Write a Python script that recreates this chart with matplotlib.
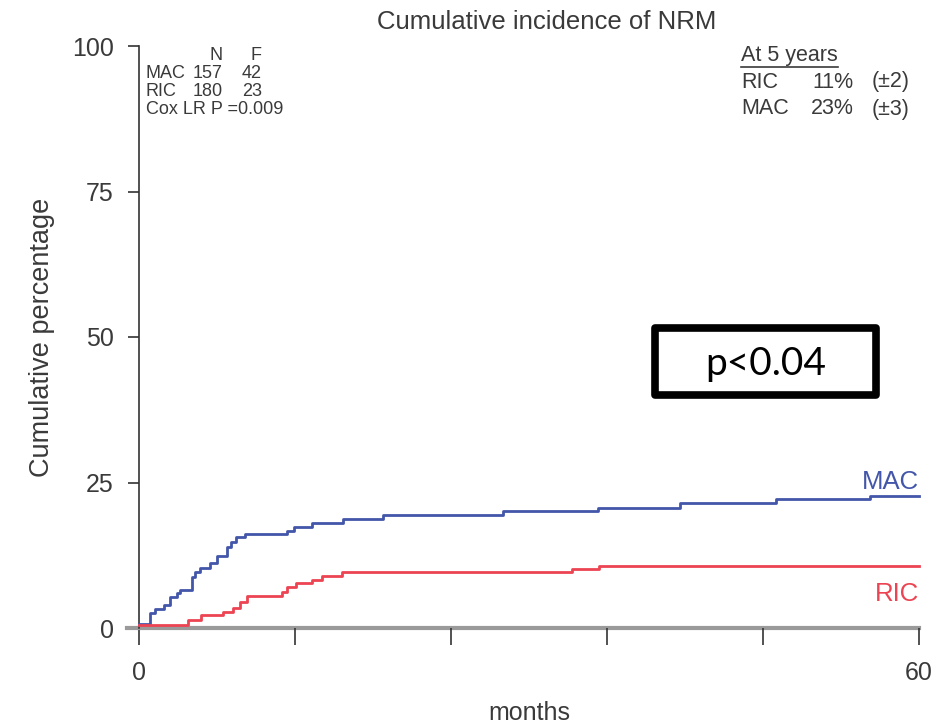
import matplotlib
matplotlib.use("Agg")
import matplotlib.pyplot as plt
from matplotlib.lines import Line2D
from matplotlib.patches import Rectangle

plt.rcParams['font.family'] = ['Liberation Sans', 'DejaVu Sans']

# ---- data ----
mac_t = [0, 0.85, 1.2, 1.9, 2.4, 2.9, 3.15, 4.05, 4.3, 4.7, 5.45, 6.0, 6.75, 7.1, 7.5,
         8.15, 11.4, 11.9, 13.3, 15.7, 18.8, 28.0, 35.3, 41.6, 49.0, 56.2, 60]
mac_v = [0.7, 2.5, 3.2, 4.0, 5.4, 6.0, 6.5, 8.8, 9.7, 10.3, 11.2, 12.3, 14.0, 14.8, 15.6,
         16.2, 16.7, 17.3, 18.1, 18.7, 19.4, 20.1, 20.7, 21.4, 22.2, 22.7, 22.7]
ric_t = [0, 3.8, 4.8, 6.5, 7.25, 7.75, 8.3, 11.0, 11.4, 12.1, 13.3, 14.05, 15.6, 33.3, 35.4, 60]
ric_v = [0.5, 1.3, 2.3, 2.8, 3.4, 4.5, 5.5, 6.2, 7.1, 7.8, 8.2, 8.9, 9.7, 10.1, 10.7, 10.7]

x_ticks = [0, 12, 24, 36, 48, 60]
x_ticklabels = ['0', '', '', '', '', '60']
y_ticks = [0, 25, 50, 75, 100]

title = "Cumulative incidence of NRM"
stats_header = ["", "N", "F"]
stats_rows = [["MAC", "157", "42"], ["RIC", "180", "23"]]
cox_text = "Cox LR P =0.009"
at5_header = "At 5 years"
at5_rows = [["RIC", "11%", "(\u00b12)"], ["MAC", "23%", "(\u00b13)"]]
pval_text = "p<0.04"

BLUE = '#4356aa'
RED = '#ec4452'
TXT = '#3a3a3a'

W, H = 945, 725
fig = plt.figure(figsize=(W / 100, H / 100), dpi=100)
ax = fig.add_axes([139 / W, (H - 628) / H, 780 / W, 582 / H])
ax.set_xlim(0, 60)
ax.set_ylim(0, 100)

ax.step(mac_t, mac_v, where='post', color=BLUE, lw=2.0, zorder=3, clip_on=False)
ax.step(ric_t, ric_v, where='post', color=RED, lw=2.0, zorder=3, clip_on=False)

for s in ['top', 'right']:
    ax.spines[s].set_visible(False)
ax.spines['left'].set_color('#333333')
ax.spines['left'].set_linewidth(1.2)
ax.spines['bottom'].set_color('#9a9a9a')
ax.spines['bottom'].set_linewidth(3.0)
ax.spines['bottom'].set_zorder(1)
ax.axhline(0, xmin=-0.016, xmax=0, color='#9a9a9a', lw=3.0, clip_on=False)

ax.set_xticks(x_ticks)
ax.set_xticklabels(x_ticklabels)
ax.set_yticks(y_ticks)
ax.tick_params(axis='x', direction='out', length=12, width=1.2, color='#333333',
               pad=12, labelsize=18, labelcolor=TXT)
ax.tick_params(axis='y', direction='out', length=8, width=1.2, color='#333333',
               pad=10, labelsize=18, labelcolor=TXT)

ax.set_xlabel("months", fontsize=18, color=TXT, labelpad=11)
ax.set_ylabel("Cumulative percentage", fontsize=19.5, color=TXT, labelpad=12)
fig.text(547 / W, 1 - 22 / H, title, ha='center', va='center', fontsize=18.5, color=TXT)

def fx(px):
    return px / W

def fy(py):
    return 1 - py / H

# top-left stats
small = 13
fig.text(fx(216), fy(55), stats_header[1], ha='center', va='center', fontsize=small, color=TXT)
fig.text(fx(256), fy(55), stats_header[2], ha='center', va='center', fontsize=small, color=TXT)
for i, row in enumerate(stats_rows):
    yy = fy(73 + i * 18.5)
    fig.text(fx(146), yy, row[0], ha='left', va='center', fontsize=small, color=TXT)
    fig.text(fx(193), yy, row[1], ha='left', va='center', fontsize=small, color=TXT)
    fig.text(fx(262), yy, row[2], ha='right', va='center', fontsize=small, color=TXT)
fig.text(fx(146), fy(110), cox_text, ha='left', va='center', fontsize=small, color=TXT)

# top-right at 5 years
mid = 15.5
fig.text(fx(741), fy(56), at5_header, ha='left', va='center', fontsize=mid, color=TXT)
fig.add_artist(Line2D([fx(741), fx(838)], [fy(67), fy(67)], color=TXT, lw=1.2))
for i, row in enumerate(at5_rows):
    yy = fy(82 + i * 27)
    fig.text(fx(741), yy, row[0], ha='left', va='center', fontsize=mid, color=TXT)
    fig.text(fx(854), yy, row[1], ha='right', va='center', fontsize=mid, color=TXT)
    fig.text(fx(872), yy, row[2], ha='left', va='center', fontsize=mid, color=TXT)

# p-value box
fig.add_artist(Rectangle((fx(655), fy(395)), (876 - 655) / W, (395 - 328) / H,
                         fill=False, edgecolor='black', lw=5.5, joinstyle='round'))
fig.text(fx(766), fy(364), pval_text, ha='center', va='center', fontsize=28,
         family=['Lato', 'DejaVu Sans'], color='black')

# curve labels
ax.text(60, mac_v[-1] + 0.3, "MAC", ha='right', va='bottom', fontsize=18.5, color=BLUE)
ax.text(60, ric_v[-1] - 2.8, "RIC", ha='right', va='top', fontsize=18.5, color=RED)

fig.savefig("out.png", dpi=100)
